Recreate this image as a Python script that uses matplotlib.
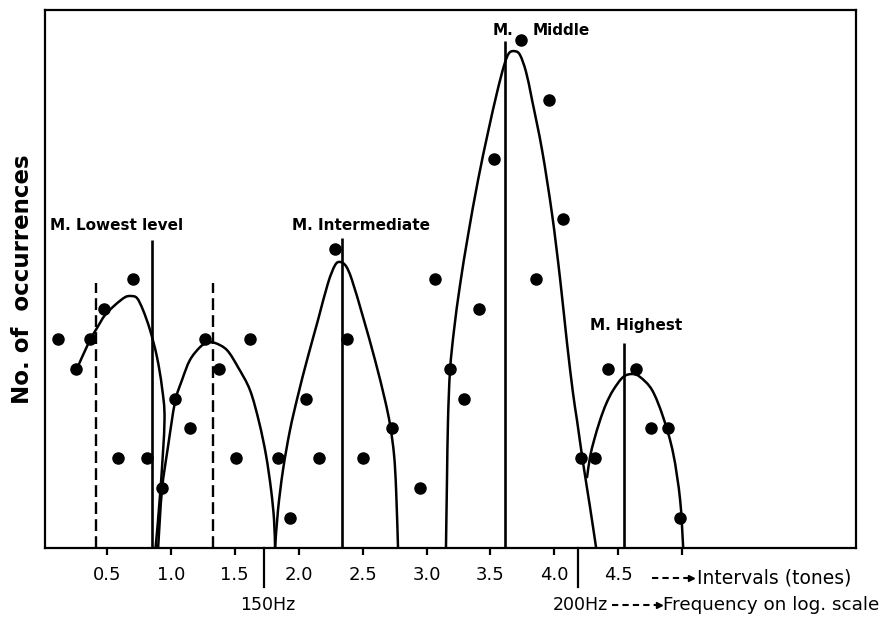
import matplotlib
matplotlib.use("Agg")
import matplotlib.pyplot as plt
from matplotlib.path import Path
from matplotlib.patches import PathPatch

# observed intervals (tones) and number of occurrences
dot_x = [0.12, 0.26, 0.37, 0.48, 0.59, 0.70, 0.81, 0.93, 1.03, 1.15,
         1.27, 1.38, 1.51, 1.62, 1.84, 1.93, 2.06, 2.16, 2.28, 2.38,
         2.50, 2.73, 2.95, 3.07, 3.18, 3.29, 3.41, 3.53, 3.74, 3.86,
         3.96, 4.07, 4.21, 4.32, 4.42, 4.64, 4.76, 4.89, 4.98]
dot_n = [7, 6, 7, 8, 3, 9, 3, 2, 5, 4,
         7, 6, 3, 7, 3, 1, 5, 3, 10, 7,
         3, 4, 2, 9, 6, 5, 8, 13, 17, 9,
         15, 11, 3, 3, 6, 6, 4, 4, 1]

# hand drawn curves
lowest_x = [0.257, 0.359, 0.422, 0.484, 0.563, 0.641, 0.688, 0.735, 0.782,
            0.837, 0.891, 0.930, 0.950, 0.920, 0.880]
lowest_y = [5.92, 6.89, 7.36, 7.79, 8.13, 8.39, 8.43, 8.36, 7.96,
            7.29, 6.39, 5.38, 4.28, 2.04, 0.0]

low2_x = [0.900, 0.930, 0.977, 1.032, 1.087, 1.149, 1.228, 1.282, 1.345,
          1.439, 1.525, 1.619, 1.690, 1.744, 1.784, 1.807, 1.815]
low2_y = [0.0, 1.94, 3.38, 4.88, 5.62, 6.29, 6.72, 6.86, 6.86,
          6.62, 6.05, 5.28, 4.21, 3.11, 1.94, 0.94, 0.0]

inter_x = [1.815, 1.838, 1.877, 1.932, 1.995, 2.065, 2.151, 2.229, 2.284,
           2.323, 2.370, 2.417, 2.503, 2.597, 2.675, 2.715, 2.746, 2.762, 2.777]
inter_y = [0.0, 1.27, 2.61, 3.95, 5.12, 6.29, 7.63, 8.86, 9.46,
           9.57, 9.43, 8.96, 7.73, 6.29, 4.95, 4.11, 3.11, 1.94, 0.0]

middle_x = [3.152, 3.160, 3.168, 3.184, 3.215, 3.262, 3.325, 3.403, 3.481,
            3.552, 3.607, 3.646, 3.693, 3.732, 3.779, 3.826, 3.904, 3.982,
            4.045, 4.099, 4.146, 4.177, 4.225, 4.279, 4.327]
middle_y = [0.0, 2.27, 4.28, 5.95, 7.29, 8.80, 10.47, 12.31, 13.91,
            15.25, 16.15, 16.56, 16.62, 16.49, 15.92, 14.98, 13.31, 11.17,
            9.00, 6.86, 5.18, 4.28, 2.84, 1.37, 0.0]

high_x = [4.256, 4.279, 4.311, 4.358, 4.405, 4.460, 4.538, 4.609, 4.671,
          4.765, 4.851, 4.929, 4.984, 5.008]
high_y = [2.37, 3.04, 3.61, 4.28, 4.82, 5.28, 5.72, 5.82, 5.72,
          5.28, 4.38, 3.18, 1.61, 0.0]

curves = [(lowest_x, lowest_y), (low2_x, low2_y), (inter_x, inter_y),
          (middle_x, middle_y), (high_x, high_y)]

# modal levels (solid) and dashed markers
mode_x = [0.852, 2.339, 3.614, 4.545]
mode_top = [10.3, 10.37, 16.95, 6.86]
dash_x = [0.414, 1.329]
dash_top = [8.86, 8.86]

tick_pos = [0.5, 1.0, 1.5, 2.0, 2.5, 3.0, 3.5, 4.0, 4.5, 5.0]
tick_lab = ['0.5', '1.0', '1.5', '2.0', '2.5', '3.0', '3.5', '4.0', '4.5', '']
hz_pos = [1.728, 4.185]


def smooth(xs, ys):
    # bezier path through the read points (catmull-rom tangents)
    pts = list(zip(xs, ys))
    n = len(pts)
    verts = [pts[0]]
    codes = [Path.MOVETO]
    for i in range(n - 1):
        p0 = pts[max(i - 1, 0)]
        p1 = pts[i]
        p2 = pts[i + 1]
        p3 = pts[min(i + 2, n - 1)]
        c1 = (p1[0] + (p2[0] - p0[0]) / 6, p1[1] + (p2[1] - p0[1]) / 6)
        c2 = (p2[0] - (p3[0] - p1[0]) / 6, p2[1] - (p3[1] - p1[1]) / 6)
        verts += [c1, c2, p2]
        codes += [Path.CURVE4] * 3
    return Path(verts, codes)


W, H = 886, 617
fig = plt.figure(figsize=(W / 100, H / 100), dpi=100)
ax = fig.add_axes([45 / W, (H - 548) / H, (856 - 45) / W, (548 - 10) / H])
ax.set_xlim(0.015, 6.36)
ax.set_ylim(0, 18)

for cx, cy in curves:
    ax.add_patch(PathPatch(smooth(cx, cy), fill=False, ec='black', lw=1.8,
                           joinstyle='round', capstyle='round'))
ax.plot(dot_x, dot_n, 'o', color='black', ms=8, ls='none')

ax.vlines(mode_x, 0, mode_top, color='black', lw=1.9)
for x, t in zip(dash_x, dash_top):
    ax.plot([x, x], [0, t], color='black', lw=1.7, dashes=(5, 2.2))

for sp in ax.spines.values():
    sp.set_linewidth(1.6)
ax.set_yticks([])
ax.set_xticks(tick_pos)
ax.set_xticklabels(tick_lab, fontsize=13)
ax.tick_params(axis='x', direction='out', length=5, width=1.6, pad=8)

for x in hz_pos:
    ax.plot([x, x], [0, -1.3], color='black', lw=1.6, clip_on=False)

ax.set_ylabel('No. of  occurrences', fontsize=16.5, fontweight='bold', labelpad=8)

lab = dict(fontsize=11, fontweight='bold', va='center')
ax.text(0.054, 10.8, 'M. Lowest level', ha='left', **lab)
ax.text(2.49, 10.8, 'M. Intermediate', ha='center', **lab)
ax.text(3.52, 17.3, 'M.', ha='left', **lab)
ax.text(3.83, 17.3, 'Middle', ha='left', **lab)
ax.text(4.64, 7.45, 'M. Highest', ha='center', **lab)

# axis legends under the chart
ax.text(1.76, -1.91, '150Hz', ha='center', va='center', fontsize=12.5, clip_on=False)
ax.text(4.42, -1.91, '200Hz', ha='right', va='center', fontsize=12.5, clip_on=False)
ax.plot([4.764, 5.05], [-1.0, -1.0], color='black', lw=1.5, dashes=(3, 2), clip_on=False)
ax.plot([5.07], [-1.0], marker='>', color='black', ms=5, clip_on=False)
ax.text(5.117, -1.0, 'Intervals (tones)', ha='left', va='center', fontsize=13.5, clip_on=False)
ax.plot([4.45, 4.80], [-1.91, -1.91], color='black', lw=1.5, dashes=(3, 2), clip_on=False)
ax.plot([4.815], [-1.91], marker='>', color='black', ms=5, clip_on=False)
ax.text(4.85, -1.91, 'Frequency on log. scale', ha='left', va='center', fontsize=13.2, clip_on=False)

fig.savefig('out.png', dpi=100)
